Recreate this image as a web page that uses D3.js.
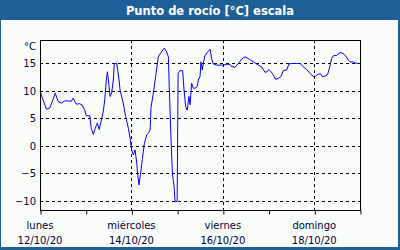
<!DOCTYPE html>
<html>
<head>
<meta charset="utf-8">
<script src="https://cdn.jsdelivr.net/npm/d3@7"></script>
<style>
  body { margin: 0; background: #1e5f98; }
  svg { display: block; }
  text { font-family: "DejaVu Sans", sans-serif; }
</style>
</head>
<body>
<svg width="400" height="250"></svg>
<script>
// hours since Mon 12/10/20 00:00
const hours = [0, 3.3, 5.1, 6.8, 8.0, 9.5, 11.2, 13.0, 15.1, 16.4, 17.3, 19.1, 20.8, 22.1, 23.5,
    24.3, 26.1, 26.9, 28.0, 29.0, 30.1, 31.1, 32.2, 33.2, 34.0, 34.8, 35.4, 36.2, 36.8, 37.6,
    38.5, 39.0, 40.3, 40.8, 41.5, 42.0, 43.7, 45.0, 46.4, 47.3, 48.1, 49.0, 49.9, 50.8, 51.3,
    52.0, 52.7, 53.7, 54.8, 56.0, 56.9, 57.8, 58.3, 59.5, 60.7, 62.1, 63.5, 65.3, 66.5, 67.4,
    67.9, 68.8, 69.5, 70.4, 70.9, 72.0, 72.5, 73.5, 74.9, 75.6, 76.5, 77.3, 78.2, 78.8, 79.6,
    80.5, 81.4, 82.6, 83.1, 84.0, 84.5, 85.2, 85.7, 86.6, 87.8, 89.3, 90.1, 91.0, 92.8, 95.4,
    98.0, 99.4, 100.3, 102.4, 104.1, 105.9, 107.6, 109.4, 111.1, 112.9, 114.6, 116.4, 118.1,
    119.3, 120.2, 121.3, 122.5, 123.7, 125.1, 126.5, 127.7, 129.5, 130.7, 132.1, 134.8, 136.5,
    138.2, 140.0, 141.8, 143.5, 144.7, 146.1, 147.4, 148.2, 149.6, 151.0, 151.9, 153.1, 154.0,
    155.8, 157.5, 159.2, 160.5, 161.9, 162.8, 164.5, 165.4, 167.1];
const dewPoint = [10.0, 6.7, 6.9, 8.4, 9.6, 8.1, 7.8, 8.2, 8.2, 8.1, 8.7, 7.6, 7.7, 7.45, 6.5,
    5.5, 5.5, 3.2, 2.1, 3.2, 4.2, 3.0, 4.7, 6.2, 8.4, 12.0, 13.5, 11.0, 9.0, 9.6,
    12.0, 15.0, 15.0, 13.8, 12.0, 10.2, 7.8, 5.3, 3.2, 1.4, -0.7, -1.6, -0.7, -3.1, -5.3,
    -7.1, -5.3, -2.5, 0.5, 2.0, 2.3, 2.9, 7.1, 9.6, 12.6, 16.2, 17.0, 17.8, 17.1, 16.2,
    10.2, 1.1, -5.0, -7.4, -10.1, -10.1, 13.2, 13.7, 13.7, 10.2, 7.1, 6.5, 9.0, 7.5, 11.4,
    10.5, 10.5, 10.8, 12.0, 12.6, 15.3, 13.8, 15.0, 16.4, 17.0, 17.6, 15.9, 14.9, 14.7, 14.7,
    14.8, 14.9, 14.5, 14.3, 15.0, 15.8, 16.2, 15.9, 15.5, 15.1, 14.7, 14.4, 13.4,
    13.5, 13.9, 13.5, 12.9, 12.1, 12.3, 12.6, 13.7, 13.8, 14.9, 15.0, 15.0, 15.0,
    14.4, 13.9, 13.2, 12.6, 12.7, 13.1, 13.1, 12.6, 12.7, 13.0, 14.1, 15.9, 16.4,
    16.5, 17.0, 16.8, 16.4, 15.6, 15.3, 15.3, 15.1, 15.0];
const yTicks = [-10, -5, 0, 5, 10, 15];
const dayNames = ["lunes", "miércoles", "viernes", "domingo"];
const dayLabels = ["12/10/20", "14/10/20", "16/10/20", "18/10/20"];

const start = Date.UTC(2020, 9, 12);
const end = start + 7 * 86400e3;
const data = hours.map((h, i) => ({ t: new Date(start + h * 3600e3), v: dewPoint[i] }));

const svg = d3.select("svg");
const ink = "#000040";

// frame
svg.append("rect").attr("x", 1).attr("y", 20).attr("width", 397).attr("height", 227)
    .attr("fill", "#fbfdfb");
svg.append("text").attr("x", 210).attr("y", 14.5).attr("text-anchor", "middle")
    .attr("fill", "white").attr("font-weight", "bold").attr("font-size", 11.5)
    .text("Punto de rocío [°C] escala");

const margin = { left: 40, top: 40, right: 360, bottom: 210 };
const x = d3.scaleUtc()
    .domain([new Date(start), new Date(end)])
    .range([margin.left, margin.right]);
const y = d3.scaleLinear().domain([-11.64, 19.27]).range([margin.bottom, margin.top]);

const majorDays = d3.utcDay.range(new Date(start), new Date(end), 2);

// grid
const grid = svg.append("g").attr("stroke", "black").attr("stroke-dasharray", "3,3");
grid.selectAll(".h").data(yTicks).join("line")
    .attr("x1", margin.left).attr("x2", margin.right)
    .attr("y1", d => Math.round(y(d)) + 0.5).attr("y2", d => Math.round(y(d)) + 0.5);
grid.selectAll(".v").data(majorDays.slice(1)).join("line")
    .attr("y1", margin.top).attr("y2", margin.bottom)
    .attr("x1", d => Math.round(x(d)) + 0.5).attr("x2", d => Math.round(x(d)) + 0.5);

// line
svg.append("path").datum(data)
    .attr("fill", "none").attr("stroke", "#0000ff").attr("stroke-width", 1)
    .attr("d", d3.line().x(d => x(d.t)).y(d => y(d.v)));

// box
svg.append("rect").attr("x", margin.left + 0.5).attr("y", margin.top + 0.5)
    .attr("width", margin.right - margin.left).attr("height", margin.bottom - margin.top)
    .attr("fill", "none").attr("stroke", "black");

// x axis ticks
const xAxis = svg.append("g").attr("transform", `translate(0.5,${margin.bottom + 0.5})`)
    .call(d3.axisBottom(x).ticks(d3.utcDay.every(1)).tickSize(4).tickFormat(""));
xAxis.select(".domain").remove();
xAxis.selectAll("line").attr("stroke", "black");

const lab = svg.append("g").attr("fill", ink).attr("font-size", 10).attr("text-anchor", "middle");
lab.selectAll(".n").data(majorDays).join("text")
    .attr("x", d => x(d)).attr("y", 229).text((d, i) => dayNames[i]);
lab.selectAll(".d").data(majorDays).join("text")
    .attr("x", d => x(d)).attr("y", 244).text((d, i) => dayLabels[i]);

// y axis labels
const yAxis = svg.append("g").attr("transform", `translate(${margin.left - 4},0)`)
    .call(d3.axisLeft(y).tickValues(yTicks).tickSize(0).tickPadding(0));
yAxis.select(".domain").remove();
yAxis.selectAll("text").attr("fill", ink).attr("font-size", 10)
    .attr("font-family", "DejaVu Sans, sans-serif");
svg.append("text").attr("x", 36).attr("y", 50).attr("text-anchor", "end")
    .attr("fill", ink).attr("font-size", 10).text("°C");
</script>
</body>
</html>
